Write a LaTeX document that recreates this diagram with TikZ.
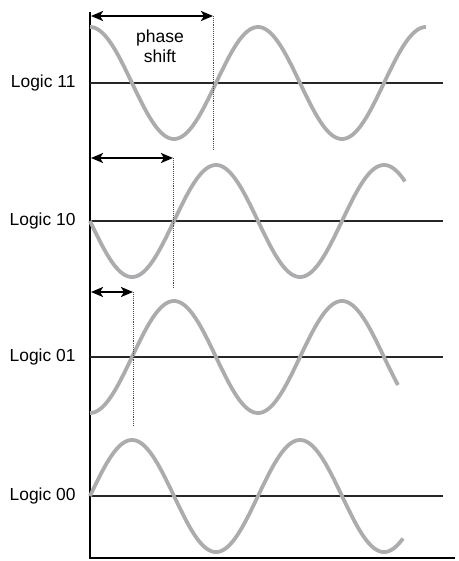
\documentclass[tikz,border=0pt]{standalone}
\usepackage{fontspec}
\setmainfont{Liberation Sans}
\usepackage{xcolor}
\usetikzlibrary{arrows, arrows.meta, positioning, calc}
\definecolor{wavegray}{RGB}{172,172,174}
\tikzstyle{arrow} = [line width=2.4pt,{Stealth[length=12pt,width=10pt,inset=3pt]}-{Stealth[length=12pt,width=10pt,inset=3pt]}]

\begin{document}
\begin{tikzpicture}[
    x=1pt, y=-1pt,
    axis/.style={line width=2pt, black},
    base/.style={line width=1.8pt, black!85},
    wave/.style={line width=3.8pt, wavegray},
    marker/.style={line width=0.9pt, densely dotted, black!70},
    label/.style={anchor=east, font=\fontsize{17.4}{20}\selectfont}
]
    \useasboundingbox (0,0) rectangle (458,561);

    % axes
    \coordinate (top) at (90,12);
    \coordinate (origin) at (90,558);
    \coordinate (xend) at (455,558);
    \draw[axis] (top) -- (origin) -- (xend);

    % levels
    \node[label] (l11) at (79,83) {Logic 11};
    \node[label] (l10) at (79,221) {Logic 10};
    \node[label] (l01) at (79,357) {Logic 01};
    \node[label] (l00) at (79,496) {Logic 00};

    \coordinate (c11) at (90,83);
    \coordinate (c10) at (90,221);
    \coordinate (c01) at (90,357);
    \coordinate (c00) at (90,496);
    \draw[base] (c11) -- ++(353,0);
    \draw[base] (c10) -- ++(353,0);
    \draw[base] (c01) -- ++(353,0);
    \draw[base] (c00) -- ++(353,0);

    % carriers
    \draw[wave] plot[domain=0:336, samples=200, smooth] ({90+\x},{83-56*cos(\x/168*360)});
    \draw[wave] plot[domain=0:315, samples=200, smooth] ({90+\x},{221+56*sin(\x/168*360)});
    \draw[wave] plot[domain=0:308, samples=200, smooth] ({90+\x},{357+56*cos(\x/168*360)});
    \draw[wave] plot[domain=0:313, samples=200, smooth] ({90+\x},{496-56*sin(\x/168*360)});

    % phase shifts
    \coordinate (s11) at (91,16);
    \coordinate (e11) at (213,16);
    \coordinate (d11) at (213,150);
    \coordinate (s10) at (91,158);
    \coordinate (e10) at (173,158);
    \coordinate (d10) at (173,288);
    \coordinate (s01) at (91,292);
    \coordinate (e01) at (133,292);
    \coordinate (d01) at (133,426);

    \draw[marker] (e11) -- (d11);
    \draw[marker] (e10) -- (d10);
    \draw[marker] (e01) -- (d01);
    \draw[arrow] (s11) -- (e11);
    \draw[arrow] (s10) -- (e10);
    \draw[arrow] (s01) -- (e01);

    \node[align=center, font=\fontsize{17.5}{20}\selectfont] (shift) at (160,46) {phase\\shift};
\end{tikzpicture}
\end{document}
